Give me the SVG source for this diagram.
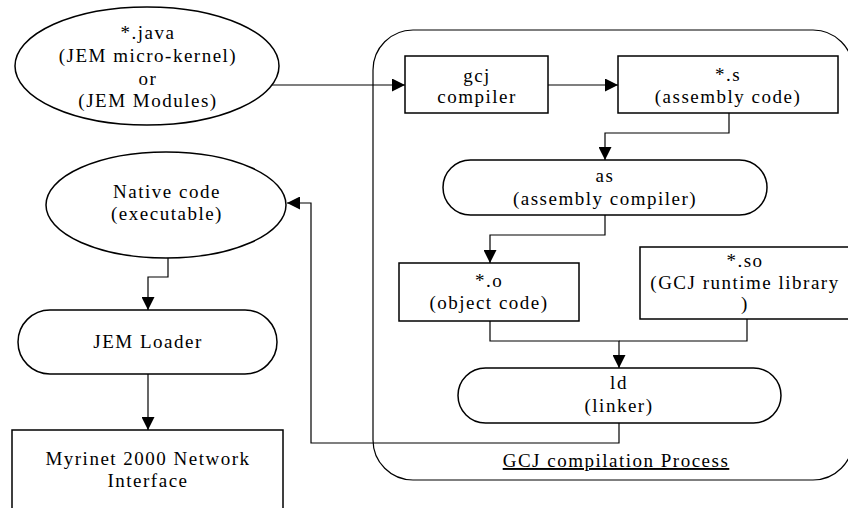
<svg xmlns="http://www.w3.org/2000/svg" width="848" height="508" viewBox="0 0 848 508">
<style>
text{font-family:"Liberation Serif","Tinos","Times New Roman","DejaVu Serif",serif;font-size:19px;letter-spacing:1.5px;text-anchor:middle;fill:#000}
.node{fill:#fff;stroke:#000;stroke-width:1.5}
.cont{fill:none;stroke:#000;stroke-width:1.2}
.conn path{fill:none;stroke:#000;stroke-width:1.2}
</style>
<defs>
<marker id="ah" markerUnits="userSpaceOnUse" markerWidth="13" markerHeight="13" refX="13" refY="6.5" orient="auto" viewBox="0 0 13 13">
<path d="M0,0 L13,6.5 L0,13 z" fill="#000"/>
</marker>
</defs>
<g id="container">
<rect class="cont" x="373" y="30" width="480" height="450" rx="40" ry="40"/>
<text x="616" y="467" text-decoration="underline">GCJ compilation Process</text>
</g>
<g class="conn" id="connectors">
<path d="M272,85 H405" marker-end="url(#ah)"/>
<path d="M548,85 H618" marker-end="url(#ah)"/>
<path d="M729,113 V133 H605 V160" marker-end="url(#ah)"/>
<path d="M605,215 V235 H490 V263" marker-end="url(#ah)"/>
<path d="M490,321 V341 H619 V368" marker-end="url(#ah)"/>
<path d="M747,319 V341 H619"/>
<path d="M619,423 V443 H311 V203 H287" marker-end="url(#ah)"/>
<path d="M168,258 V277 H148 V310" marker-end="url(#ah)"/>
<path d="M148,374 V430" marker-end="url(#ah)"/>
</g>
<g id="java">
<ellipse class="node" cx="147" cy="66" rx="132" ry="59"/>
<text x="148" y="39">*.java</text>
<text x="148" y="62">(JEM micro-kernel)</text>
<text x="148" y="84.5">or</text>
<text x="148" y="107">(JEM Modules)</text>
</g>
<g id="gcj">
<rect class="node" x="405" y="56" width="143" height="57"/>
<text x="477" y="82">gcj</text>
<text x="477" y="103">compiler</text>
</g>
<g id="asm">
<rect class="node" x="618" y="56" width="220" height="57"/>
<text x="728" y="81">*.s</text>
<text x="728" y="103">(assembly code)</text>
</g>
<g id="as">
<rect class="node" x="443" y="160" width="324" height="55" rx="27.5" ry="27.5"/>
<text x="605" y="182">as</text>
<text x="605" y="205">(assembly compiler)</text>
</g>
<g id="obj">
<rect class="node" x="399" y="263" width="180" height="58"/>
<text x="489" y="287">*.o</text>
<text x="489" y="309">(object code)</text>
</g>
<g id="so">
<rect class="node" x="640" y="247" width="215" height="72"/>
<text x="745" y="267">*.so</text>
<text x="745" y="289">(GCJ runtime library</text>
<text x="745" y="310">)</text>
</g>
<g id="ld">
<rect class="node" x="458" y="368" width="323" height="55" rx="27.5" ry="27.5"/>
<text x="619" y="389">ld</text>
<text x="619" y="412">(linker)</text>
</g>
<g id="native">
<ellipse class="node" cx="166" cy="205" rx="120" ry="53"/>
<text x="167" y="198">Native code</text>
<text x="167" y="220">(executable)</text>
</g>
<g id="loader">
<rect class="node" x="18" y="310" width="259" height="64" rx="32" ry="32"/>
<text x="148" y="348">JEM Loader</text>
</g>
<g id="myrinet">
<rect class="node" x="12" y="430" width="271" height="90"/>
<text x="148" y="465">Myrinet 2000 Network</text>
<text x="148" y="487">Interface</text>
</g>
</svg>
